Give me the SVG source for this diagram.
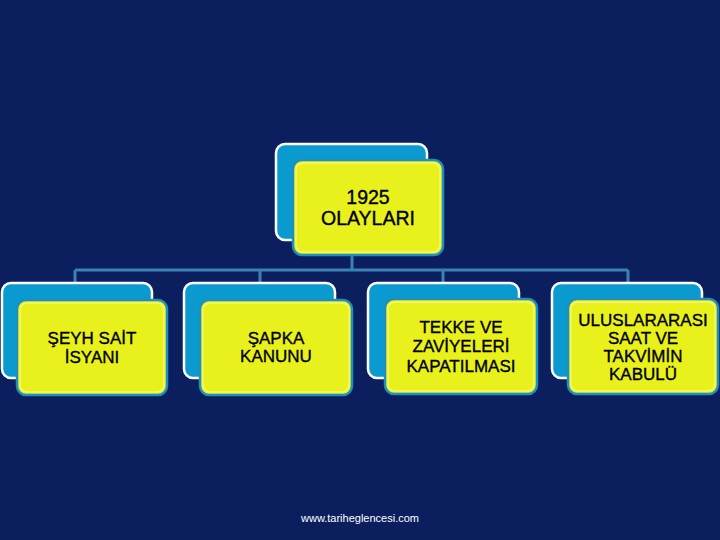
<svg xmlns="http://www.w3.org/2000/svg" width="720" height="540" viewBox="0 0 720 540">
<style>
.back{fill:#0b9ad0;stroke:#ffffff;stroke-width:2.5}
.front{fill:#e8f11c;stroke:#1e8fbf;stroke-width:2.5}
.hl{fill:none;stroke:#f6fa8a;stroke-width:1.5;opacity:0.8}
.lbl{font-family:"Liberation Sans",Arial,sans-serif;font-size:17px;fill:#000;text-anchor:middle;stroke:#000;stroke-width:0.35}
.top{font-size:19.5px}
.conn{stroke:#3a82b4;stroke-width:3;fill:none}
</style>
<rect x="0" y="0" width="720" height="540" fill="#0b1f5e"/>
<g id="connectors">
<path class="conn" d="M352 255V270M75 270H628M75 270V283M260 270V283M443 270V283M628 270V283"/>
</g>
<g id="node-top">
<rect class="back" x="276" y="144" width="151" height="96" rx="9"/>
<rect class="front" x="293" y="160" width="150" height="95" rx="9"/>
<rect class="hl" x="296" y="163" width="144" height="89" rx="7"/>
<text class="lbl top" x="368" y="204">1925</text>
<text class="lbl top" x="368" y="225">OLAYLARI</text>
</g>
<g id="node-1">
<rect class="back" x="2" y="283" width="150" height="95" rx="9"/>
<rect class="front" x="17" y="300" width="150" height="95" rx="9"/>
<rect class="hl" x="20" y="303" width="144" height="89" rx="7"/>
<text class="lbl" x="92" y="344">ŞEYH SAİT</text>
<text class="lbl" x="92" y="363">İSYANI</text>
</g>
<g id="node-2">
<rect class="back" x="184" y="283" width="151" height="95" rx="9"/>
<rect class="front" x="200" y="300" width="152" height="95" rx="9"/>
<rect class="hl" x="203" y="303" width="146" height="89" rx="7"/>
<text class="lbl" x="276" y="344">ŞAPKA</text>
<text class="lbl" x="276" y="362">KANUNU</text>
</g>
<g id="node-3">
<rect class="back" x="368" y="283" width="151" height="95" rx="9"/>
<rect class="front" x="385" y="299" width="152" height="95" rx="9"/>
<rect class="hl" x="388" y="302" width="146" height="89" rx="7"/>
<text class="lbl" x="461" y="333">TEKKE VE</text>
<text class="lbl" x="461" y="352">ZAVİYELERİ</text>
<text class="lbl" x="461" y="372">KAPATILMASI</text>
</g>
<g id="node-4">
<rect class="back" x="552" y="283" width="150" height="95" rx="9"/>
<rect class="front" x="568" y="299" width="150" height="95" rx="9"/>
<rect class="hl" x="571" y="302" width="144" height="89" rx="7"/>
<text class="lbl" x="643" y="326">ULUSLARARASI</text>
<text class="lbl" x="643" y="344">SAAT VE</text>
<text class="lbl" x="643" y="362">TAKVİMİN</text>
<text class="lbl" x="643" y="380">KABULÜ</text>
</g>
<text x="360" y="522" font-family="Liberation Sans, Arial, sans-serif" font-size="11" fill="#ffffff" text-anchor="middle">www.tariheglencesi.com</text>
</svg>
